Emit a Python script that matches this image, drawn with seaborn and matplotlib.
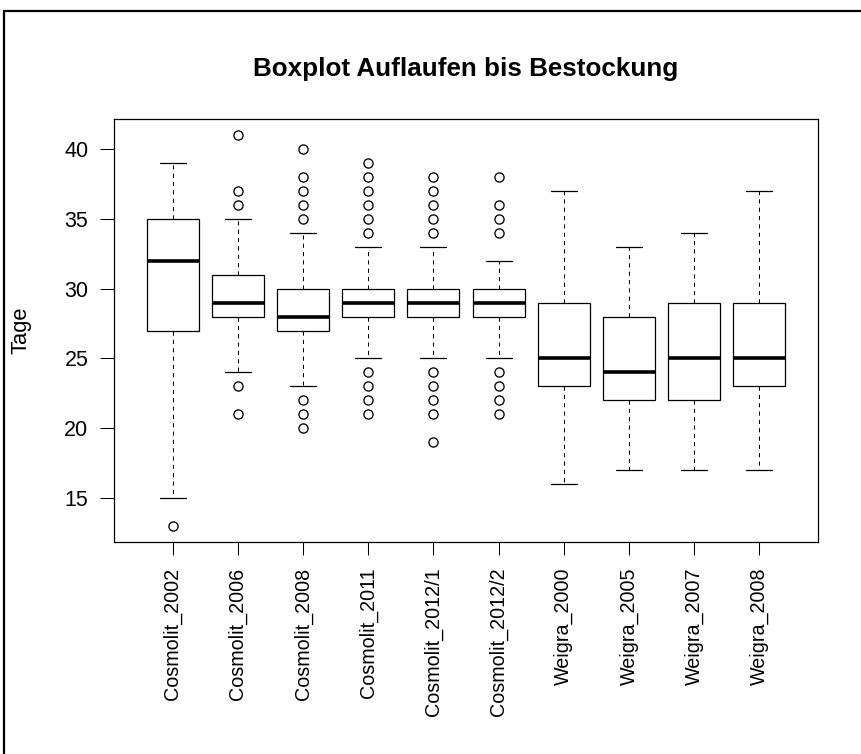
import matplotlib
matplotlib.use("Agg")
import matplotlib.pyplot as plt
from matplotlib.patches import Rectangle
import seaborn as sns

# ---- data ----
categories = ["Cosmolit_2002", "Cosmolit_2006", "Cosmolit_2008", "Cosmolit_2011",
              "Cosmolit_2012/1", "Cosmolit_2012/2", "Weigra_2000", "Weigra_2005",
              "Weigra_2007", "Weigra_2008"]
whisk_lo = [15, 24, 23, 25, 25, 25, 16, 17, 17, 17]
q1 = [27, 28, 27, 28, 28, 28, 23, 22, 22, 23]
med = [32, 29, 28, 29, 29, 29, 25, 24, 25, 25]
q3 = [35, 31, 30, 30, 30, 30, 29, 28, 29, 29]
whisk_hi = [39, 35, 34, 33, 33, 32, 37, 33, 34, 37]
outliers = [
    [13],
    [21, 23, 36, 37, 41],
    [20, 21, 22, 35, 36, 37, 38, 40],
    [21, 22, 23, 24, 34, 35, 36, 37, 38, 39],
    [19, 21, 22, 23, 24, 34, 35, 36, 37, 38],
    [21, 22, 23, 24, 34, 35, 36, 38],
    [], [], [], [],
]
yticks = [15, 20, 25, 30, 35, 40]
title = "Boxplot Auflaufen bis Bestockung"
ylabel = "Tage"

sns.set_style("white")
plt.rcParams["font.family"] = ["Liberation Sans", "DejaVu Sans"]
plt.rcParams["text.color"] = "black"
plt.rcParams["axes.labelcolor"] = "black"
plt.rcParams["xtick.color"] = "black"
plt.rcParams["ytick.color"] = "black"

fig = plt.figure(figsize=(8.62, 7.54), dpi=100)
ax = fig.add_axes([114 / 862, 1 - 541.7 / 754, 704 / 862, 422.4 / 754])

stats = []
for i, c in enumerate(categories):
    stats.append(dict(label=c, whislo=whisk_lo[i], q1=q1[i], med=med[i],
                      q3=q3[i], whishi=whisk_hi[i], fliers=outliers[i]))

positions = list(range(1, len(categories) + 1))
ax.bxp(stats, positions=positions, widths=0.8, showfliers=True,
       patch_artist=True,
       boxprops=dict(facecolor="white", edgecolor="black", linewidth=0.9),
       medianprops=dict(color="black", linewidth=2.6, solid_capstyle="butt"),
       whiskerprops=dict(color="black", linewidth=0.75, linestyle=(0, (4, 4))),
       capprops=dict(color="black", linewidth=0.9),
       capwidths=0.4,
       flierprops=dict(marker="o", markerfacecolor="none", markeredgecolor="black",
                       markersize=6.6, markeredgewidth=0.95, linestyle="none"))

ax.set_xlim(0.1, 10.9)
ax.set_ylim(11.88, 42.12)
ax.set_yticks(yticks)
ax.set_yticklabels([str(v) for v in yticks])
ax.set_xticks(positions)
ax.set_xticklabels(categories, rotation=90, va="top", ha="center")

for s in ax.spines.values():
    s.set_visible(True)
    s.set_color("black")
    s.set_linewidth(0.9)

ax.tick_params(axis="y", which="major", direction="out", length=10, width=0.75,
               color="black", pad=8.5, labelsize=15.5, left=True, labelcolor="black")
ax.tick_params(axis="x", which="major", direction="out", length=9.5, width=0.75,
               color="black", pad=9, labelsize=14.2, bottom=True, labelcolor="black")

ax.set_title(title, fontsize=18.7, fontweight="bold", pad=31, color="black")
ax.set_ylabel(ylabel, fontsize=15.8, color="black")
ax.yaxis.set_label_coords(-0.1165, 0.5)

fig.add_artist(Rectangle((4.5 / 862, -0.1), 2.0, (1 - 10.5 / 754) + 0.1,
                         fill=False, edgecolor="black", linewidth=1.6,
                         transform=fig.transFigure))

fig.savefig("out.png", dpi=100, facecolor="white")
